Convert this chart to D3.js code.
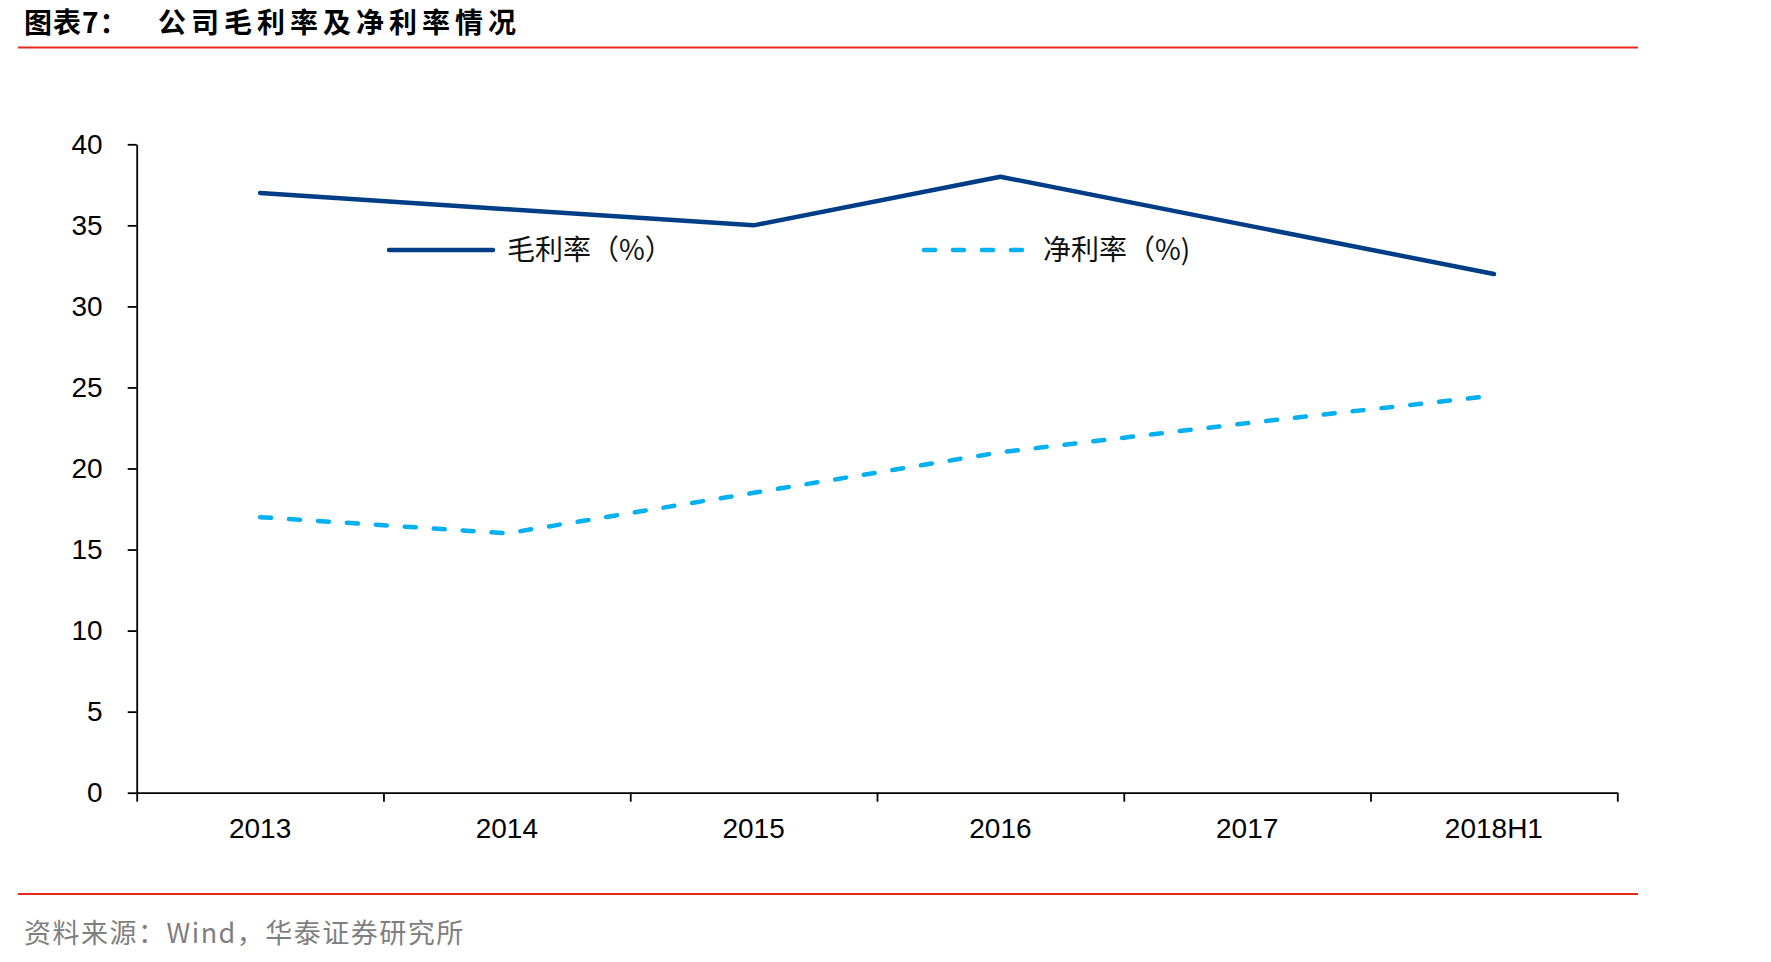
<!DOCTYPE html>
<html>
<head>
  <meta charset="utf-8">
  <title>公司毛利率及净利率情况</title>
  <style>
    body { margin: 0; background: #fff; }
    text { font-family: "Liberation Sans", Arial, "Noto Sans CJK SC", sans-serif; }
    .cjk { font-family: "Noto Sans CJK SC", sans-serif; }
  </style>
</head>
<body>
  <svg width="1771" height="962"></svg>
  <script src="https://d3js.org/d3.v7.min.js"></script>
  <script>
    // 数据
    var categories = ["2013", "2014", "2015", "2016", "2017", "2018H1"];
    var grossMargin = [37, 36, 35, 38, 35, 32];
    var netMargin = [17, 16, 18.5, 21, 22.8, 24.5];
    var yTicks = [0, 5, 10, 15, 20, 25, 30, 35, 40];
    var seriesNames = ["毛利率（%）", "净利率（%)"];

    var svg = d3.select("svg");

    // 标题与分隔线
    svg.append("text").attr("class", "cjk")
      .attr("x", 24).attr("y", 33)
      .attr("font-size", 28).attr("font-weight", "bold")
      .attr("letter-spacing", 1)
      .text("图表7：");
    svg.append("text").attr("class", "cjk")
      .attr("x", 158).attr("y", 33)
      .attr("font-size", 28).attr("font-weight", "bold")
      .attr("letter-spacing", 5)
      .text("公司毛利率及净利率情况");
    svg.append("line")
      .attr("x1", 18).attr("x2", 1638).attr("y1", 47.5).attr("y2", 47.5)
      .attr("stroke", "#e8291c").attr("stroke-width", 2);
    svg.append("line")
      .attr("x1", 18).attr("x2", 1638).attr("y1", 894).attr("y2", 894)
      .attr("stroke", "#e8291c").attr("stroke-width", 2);
    svg.append("text").attr("class", "cjk")
      .attr("x", 24).attr("y", 943)
      .attr("font-size", 27).attr("fill", "#7f7f7f")
      .attr("letter-spacing", 1.5)
      .text("资料来源：Wind，华泰证券研究所");

    // 比例尺
    var plotLeft = 136.7, plotRight = 1617.3, plotTop = 144.3, plotBottom = 792.7;
    var x = d3.scaleBand().domain(categories).range([plotLeft, plotRight]);
    var xEdges = d3.scaleLinear().domain([0, categories.length]).range([plotLeft, plotRight]);
    var y = d3.scaleLinear().domain([0, 40]).range([plotBottom, plotTop]);

    // Y 轴
    var yAxis = svg.append("g")
      .attr("transform", "translate(" + plotLeft + ",0)")
      .call(d3.axisLeft(y).tickValues(yTicks).tickSize(9).tickSizeOuter(0).tickPadding(25));
    yAxis.selectAll("text").attr("font-size", 28).attr("fill", "#000")
      .attr("font-family", "Liberation Sans, Arial, sans-serif");

    // X 轴（刻度在类别边界）
    svg.append("g")
      .attr("transform", "translate(0," + plotBottom + ")")
      .call(d3.axisBottom(xEdges).tickValues(d3.range(categories.length + 1)).tickSize(9).tickSizeOuter(0).tickFormat(""));
    svg.append("g").selectAll("text")
      .data(categories).enter().append("text")
      .attr("x", function (d) { return x(d) + x.bandwidth() / 2; })
      .attr("y", 838)
      .attr("text-anchor", "middle")
      .attr("font-size", 28)
      .attr("font-family", "Liberation Sans, Arial, sans-serif")
      .text(function (d) { return d; });

    svg.selectAll(".domain, .tick line").attr("stroke", "#000").attr("stroke-width", 1.8);

    // 折线
    var line = d3.line()
      .x(function (d, i) { return x(categories[i]) + x.bandwidth() / 2; })
      .y(function (d) { return y(d); });

    svg.append("path").datum(grossMargin)
      .attr("d", line)
      .attr("fill", "none")
      .attr("stroke", "#003d87")
      .attr("stroke-width", 4.5)
      .attr("stroke-linejoin", "round")
      .attr("stroke-linecap", "round");

    svg.append("path").datum(netMargin)
      .attr("d", line)
      .attr("fill", "none")
      .attr("stroke", "#00b0f0")
      .attr("stroke-width", 4.5)
      .attr("stroke-dasharray", "11,18")
      .attr("stroke-linecap", "round");

    // 图例
    var legend = svg.append("g");
    legend.append("line")
      .attr("x1", 389).attr("x2", 493).attr("y1", 250).attr("y2", 250)
      .attr("stroke", "#003d87").attr("stroke-width", 4.5).attr("stroke-linecap", "round");
    legend.append("text").attr("class", "cjk")
      .attr("x", 507).attr("y", 260)
      .attr("font-size", 28).attr("fill", "#111")
      .text(seriesNames[0]);
    legend.append("line")
      .attr("x1", 924).attr("x2", 1024).attr("y1", 250).attr("y2", 250)
      .attr("stroke", "#00b0f0").attr("stroke-width", 4.5)
      .attr("stroke-dasharray", "11,18").attr("stroke-linecap", "round");
    legend.append("text").attr("class", "cjk")
      .attr("x", 1043).attr("y", 260)
      .attr("font-size", 28).attr("fill", "#111")
      .text(seriesNames[1]);
  </script>
</body>
</html>
